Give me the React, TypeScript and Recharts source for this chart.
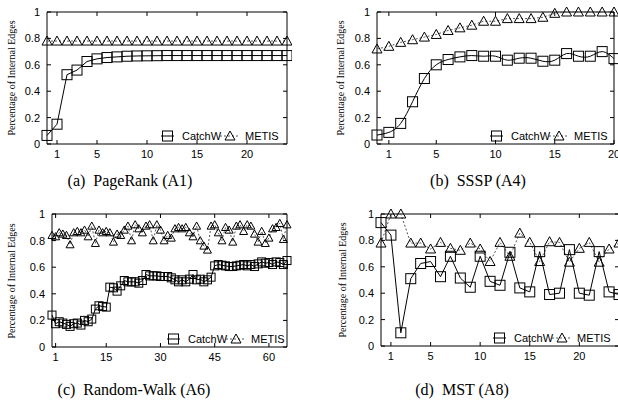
import React from "react";
import { Legend, Line, LineChart, ReferenceArea, XAxis, YAxis } from "recharts";

const SANS = "'Liberation Sans', Arial, sans-serif";
const SERIF = "'Liberation Serif', 'Times New Roman', serif";

const Y_TICKS = [0, 0.2, 0.4, 0.6, 0.8, 1];
const Y_LABEL = "Percentage of Internal Edges";

// (a) PageRank
const A_TICKS = [1, 5, 10, 15, 20];
const A_CATCHW = [
  0.065, 0.15, 0.525, 0.56, 0.625, 0.645, 0.655, 0.66, 0.665, 0.667, 0.668,
  0.669, 0.67, 0.67, 0.67, 0.67, 0.67, 0.67, 0.67, 0.67, 0.67, 0.67, 0.67,
  0.67, 0.67,
];
const A_METIS = [
  0.78, 0.78, 0.78, 0.78, 0.78, 0.78, 0.78, 0.78, 0.78, 0.78, 0.78, 0.78,
  0.78, 0.78, 0.78, 0.78, 0.78, 0.78, 0.78, 0.78, 0.78, 0.78, 0.78, 0.78,
  0.78,
];

// (b) SSSP
const B_TICKS = [1, 5, 10, 15, 20];
const B_CATCHW = [
  0.068, 0.088, 0.156, 0.32, 0.496, 0.6, 0.64, 0.66, 0.67, 0.665, 0.665,
  0.635, 0.65, 0.65, 0.627, 0.635, 0.685, 0.665, 0.665, 0.7, 0.647,
];
const B_METIS = [
  0.72, 0.74, 0.77, 0.79, 0.81, 0.83, 0.86, 0.88, 0.9, 0.93, 0.93, 0.95,
  0.95, 0.95, 0.96, 0.99, 1.0, 1.0, 1.0, 1.0, 1.0,
];

// (c) Random-Walk
const C_TICKS = [1, 15, 30, 45, 60];
const C_CATCHW = [
  0.24, 0.175, 0.19, 0.18, 0.17, 0.155, 0.175, 0.18, 0.165, 0.2,
  0.19, 0.21, 0.285, 0.31, 0.305, 0.3, 0.45, 0.445, 0.42, 0.46,
  0.5, 0.49, 0.49, 0.49, 0.48, 0.5, 0.545, 0.535, 0.535, 0.535,
  0.53, 0.53, 0.53, 0.52, 0.505, 0.49, 0.505, 0.49, 0.51, 0.545,
  0.505, 0.51, 0.49, 0.505, 0.525, 0.61, 0.62, 0.615, 0.61, 0.605,
  0.605, 0.61, 0.615, 0.62, 0.61, 0.62, 0.605, 0.625, 0.64, 0.63,
  0.635, 0.62, 0.64, 0.635, 0.62, 0.65,
];
const C_METIS = [
  0.84, 0.83, 0.86, 0.85, 0.84, 0.77, 0.86, 0.87, 0.86, 0.88,
  0.83, 0.91, 0.78, 0.88, 0.86, 0.87, 0.86, 0.79, 0.85, 0.84,
  0.88, 0.91, 0.8, 0.92, 0.89, 0.86, 0.91, 0.92, 0.8, 0.92,
  0.88, 0.8, 0.84, 0.82, 0.89, 0.9, 0.89, 0.9, 0.86, 0.83,
  0.91, 0.8, 0.76, 0.73, 0.91, 0.92, 0.86, 0.8, 0.9, 0.88,
  0.79, 0.91, 0.92, 0.87, 0.92, 0.91, 0.85, 0.79, 0.87, 0.78,
  0.82, 0.89, 0.9, 0.93, 0.81, 0.92,
];

// (d) MST
const D_TICKS = [1, 5, 10, 15, 20];
const D_CATCHW = [
  0.935, 0.84, 0.1, 0.51, 0.625, 0.64, 0.525, 0.68, 0.515, 0.445, 0.68,
  0.49, 0.46, 0.71, 0.44, 0.41, 0.715, 0.39, 0.4, 0.73, 0.4, 0.385, 0.715,
  0.41, 0.39,
];
const D_METIS = [
  0.78, 1.0, 1.0, 0.78, 0.78, 0.735, 0.785, 0.74, 0.725, 0.78, 0.735, 0.64,
  0.785, 0.68, 0.855, 0.785, 0.64, 0.79, 0.785, 0.635, 0.74, 0.785, 0.635,
  0.735, 0.78,
];

const toRows = (cw: number[], me: number[]) =>
  cw.map((v, i) => ({ x: i, catchw: v, metis: me[i] }));

function squareDot(size: number) {
  return (p: any) => {
    if (p.cx == null || p.cy == null) return <g key={p.index} />;
    const h = size / 2;
    return (
      <rect
        key={`s${p.index}`}
        x={p.cx - h}
        y={p.cy - h}
        width={size}
        height={size}
        fill="none"
        stroke="#000"
        strokeWidth={1}
      />
    );
  };
}

function triDot(size: number) {
  return (p: any) => {
    if (p.cx == null || p.cy == null) return <g key={p.index} />;
    const h = size / 2;
    const pts = `${p.cx},${p.cy - h} ${p.cx - h},${p.cy + h * 0.8} ${p.cx + h},${p.cy + h * 0.8}`;
    return (
      <polygon key={`t${p.index}`} points={pts} fill="none" stroke="#000" strokeWidth={1} />
    );
  };
}

function YTick(props: any) {
  const { x, y, payload, plotW } = props;
  const ax = x + 7;
  return (
    <g>
      <text x={x} y={y + 4} textAnchor="end" fontSize={11} fontFamily={SANS} fill="#000">
        {String(payload.value)}
      </text>
      <line x1={ax} x2={ax + 4} y1={y} y2={y} stroke="#000" />
      <line x1={ax + plotW - 4} x2={ax + plotW} y1={y} y2={y} stroke="#000" />
    </g>
  );
}

function XTick(props: any) {
  const { x, y, payload, plotH } = props;
  const by = y - 6;
  return (
    <g>
      <text x={x} y={y + 8} textAnchor="middle" fontSize={11} fontFamily={SANS} fill="#000">
        {String(payload.value)}
      </text>
      <line x1={x} x2={x} y1={by} y2={by - 4} stroke="#000" />
      <line x1={x} x2={x} y1={by - plotH} y2={by - plotH + 4} stroke="#000" />
    </g>
  );
}

function LegendBox({ sq, tri }: { sq: number; tri: number }) {
  return (
    <svg width={120} height={14} style={{ display: "block", overflow: "visible" }}>
      <line x1={0} x2={13} y1={7} y2={7} stroke="#000" />
      <rect x={6.5 - sq / 2} y={7 - sq / 2} width={sq} height={sq} fill="none" stroke="#000" />
      <text x={21} y={11} fontSize={11} fontFamily={SANS} fill="#000">
        CatchW
      </text>
      <line x1={59} x2={79} y1={7} y2={7} stroke="#555" strokeDasharray="2 2" />
      <polygon
        points={`69,${7 - tri / 2} ${69 - tri / 2},${7 + tri * 0.4} ${69 + tri / 2},${7 + tri * 0.4}`}
        fill="none"
        stroke="#000"
      />
      <text x={84} y={11} fontSize={11} fontFamily={SANS} fill="#000">
        METIS
      </text>
    </svg>
  );
}

interface PanelProps {
  caption: string;
  captionX: number;
  captionY: number;
  catchw: number[];
  metis: number[];
  ticks: number[];
  chartLeft: number;
  chartTop: number;
  plotL: number;
  plotR: number;
  plotT: number;
  plotB: number;
  labelX: number;
  legendLeft: number;
  curve: "linear" | "natural";
  sq: number;
}

function Panel(p: PanelProps) {
  const rows = toRows(p.catchw, p.metis);
  const xMax = p.catchw.length - 1;
  const plotW = p.plotR - p.plotL;
  const plotH = p.plotB - p.plotT;
  const width = p.plotR - p.chartLeft + 5;
  const height = p.plotB - p.chartTop + 26;
  return (
    <>
      <div style={{ position: "absolute", left: p.chartLeft, top: p.chartTop }}>
        <LineChart
          width={width}
          height={height}
          data={rows}
          margin={{ top: p.plotT - p.chartTop, right: 5, left: 0, bottom: 0 }}
        >
          <ReferenceArea x1={0} x2={xMax} y1={0} y2={1} fill="none" stroke="#000" strokeWidth={1} />
          <XAxis
            dataKey="x"
            type="number"
            domain={[0, xMax]}
            ticks={p.ticks}
            interval={0}
            height={26}
            axisLine={false}
            tickLine={false}
            tickSize={0}
            tickMargin={6}
            tick={<XTick plotH={plotH} />}
          />
          <YAxis
            type="number"
            domain={[0, 1]}
            ticks={Y_TICKS}
            interval={0}
            width={p.plotL - p.chartLeft}
            axisLine={false}
            tickLine={false}
            tickSize={0}
            tickMargin={7}
            tick={<YTick plotW={plotW} />}
          />
          <Line
            dataKey="metis"
            type="linear"
            stroke="#555"
            strokeWidth={1}
            strokeDasharray="2 2"
            dot={triDot(p.sq)}
            isAnimationActive={false}
          />
          <Line
            dataKey="catchw"
            type={p.curve}
            stroke="#000"
            strokeWidth={1}
            dot={squareDot(p.sq)}
            isAnimationActive={false}
          />
          <Legend
            layout="vertical"
            verticalAlign="middle"
            align="center"
            wrapperStyle={{
              left: p.legendLeft - p.chartLeft,
              top: p.plotB - p.chartTop - 15,
              width: 120,
              height: 14,
            }}
            content={() => <LegendBox sq={10} tri={10} />}
          />
        </LineChart>
      </div>
      <div
        style={{
          position: "absolute",
          left: p.labelX,
          top: (p.plotT + p.plotB) / 2,
          transform: "translate(-50%, -50%) rotate(-90deg)",
          whiteSpace: "nowrap",
          fontFamily: SERIF,
          fontSize: 10,
          lineHeight: "12px",
        }}
      >
        {Y_LABEL}
      </div>
      <div
        style={{
          position: "absolute",
          left: p.captionX,
          top: p.captionY,
          transform: "translate(-50%, -50%)",
          whiteSpace: "pre",
          fontFamily: SERIF,
          fontSize: 16,
        }}
      >
        {p.caption}
      </div>
    </>
  );
}

export default function App() {
  return (
    <div
      style={{
        position: "fixed",
        left: 0,
        top: 0,
        width: 618,
        height: 407,
        overflow: "hidden",
        background: "#fff",
      }}
    >
      <Panel
        caption="(a)  PageRank (A1)"
        captionX={130}
        captionY={181}
        catchw={A_CATCHW}
        metis={A_METIS}
        ticks={A_TICKS}
        chartLeft={0}
        chartTop={0}
        plotL={47}
        plotR={287}
        plotT={12}
        plotB={144}
        labelX={12}
        legendLeft={161}
        curve="linear"
        sq={10}
      />
      <Panel
        caption="(b)  SSSP (A4)"
        captionX={478}
        captionY={181}
        catchw={B_CATCHW}
        metis={B_METIS}
        ticks={B_TICKS}
        chartLeft={300}
        chartTop={0}
        plotL={377}
        plotR={614}
        plotT={12}
        plotB={144}
        labelX={341}
        legendLeft={490}
        curve="natural"
        sq={10}
      />
      <Panel
        caption="(c)  Random-Walk (A6)"
        captionX={134}
        captionY={390}
        catchw={C_CATCHW}
        metis={C_METIS}
        ticks={C_TICKS}
        chartLeft={0}
        chartTop={200}
        plotL={52}
        plotR={287}
        plotT={214}
        plotB={347}
        labelX={12}
        legendLeft={167}
        curve="linear"
        sq={8}
      />
      <Panel
        caption="(d)  MST (A8)"
        captionX={462}
        captionY={390}
        catchw={D_CATCHW}
        metis={D_METIS}
        ticks={D_TICKS}
        chartLeft={300}
        chartTop={200}
        plotL={381}
        plotR={619}
        plotT={214}
        plotB={346}
        labelX={343}
        legendLeft={493}
        curve="linear"
        sq={10}
      />
    </div>
  );
}
